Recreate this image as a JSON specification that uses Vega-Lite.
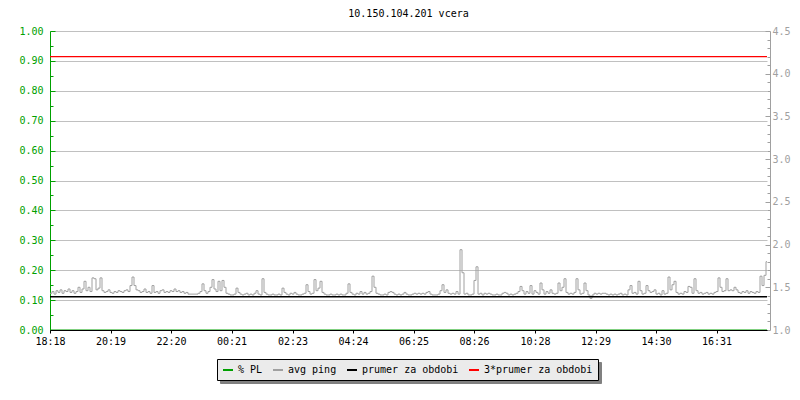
{
  "$schema": "https://vega.github.io/schema/vega-lite/v6.json",
  "width": 717,
  "height": 299,
  "autosize": {"type": "none"},
  "padding": {"left": 50, "top": 31, "right": 33, "bottom": 70},
  "background": "white",
  "config": {"view": {"stroke": null}},
  "title": {"text": "10.150.104.201 vcera", "font": "DejaVu Sans Mono", "fontSize": 10, "fontWeight": "normal", "color": "black", "anchor": "middle", "offset": 7},
  "datasets": {
    "pl": [{"m": 0, "pl": 0}, {"m": 1434, "pl": 0}],
    "ping": [
{"m":0,"p":1.43},{"m":4,"p":1.45},{"m":8,"p":1.42},{"m":12,"p":1.46},{"m":16,"p":1.44},{"m":20,"p":1.47},{"m":24,"p":1.43},{"m":28,"p":1.46},{"m":32,"p":1.45},{"m":36,"p":1.48},
{"m":40,"p":1.44},{"m":44,"p":1.46},{"m":48,"p":1.43},{"m":52,"p":1.45},{"m":56,"p":1.50},{"m":60,"p":1.44},{"m":64,"p":1.48},{"m":68,"p":1.57},{"m":72,"p":1.46},{"m":76,"p":1.50},
{"m":80,"p":1.45},{"m":84,"p":1.61},{"m":88,"p":1.60},{"m":92,"p":1.47},{"m":96,"p":1.49},{"m":100,"p":1.61},{"m":104,"p":1.46},{"m":108,"p":1.44},{"m":112,"p":1.45},{"m":116,"p":1.47},
{"m":120,"p":1.44},{"m":124,"p":1.43},{"m":128,"p":1.45},{"m":132,"p":1.44},{"m":136,"p":1.46},{"m":140,"p":1.45},{"m":144,"p":1.44},{"m":148,"p":1.46},{"m":152,"p":1.47},{"m":156,"p":1.45},
{"m":160,"p":1.52},{"m":164,"p":1.62},{"m":168,"p":1.52},{"m":172,"p":1.47},{"m":176,"p":1.46},{"m":180,"p":1.44},{"m":184,"p":1.45},{"m":188,"p":1.48},{"m":192,"p":1.44},{"m":196,"p":1.45},
{"m":200,"p":1.43},{"m":204,"p":1.52},{"m":208,"p":1.44},{"m":212,"p":1.45},{"m":216,"p":1.43},{"m":220,"p":1.46},{"m":224,"p":1.47},{"m":228,"p":1.44},{"m":232,"p":1.45},{"m":236,"p":1.44},
{"m":240,"p":1.46},{"m":244,"p":1.45},{"m":248,"p":1.48},{"m":252,"p":1.45},{"m":256,"p":1.46},{"m":260,"p":1.44},{"m":264,"p":1.45},{"m":268,"p":1.43},{"m":272,"p":1.44},{"m":276,"p":1.42},
{"m":280,"p":1.42},{"m":284,"p":1.42},{"m":288,"p":1.42},{"m":292,"p":1.42},{"m":296,"p":1.43},{"m":300,"p":1.45},{"m":304,"p":1.54},{"m":308,"p":1.46},{"m":312,"p":1.43},{"m":316,"p":1.45},
{"m":320,"p":1.50},{"m":324,"p":1.59},{"m":328,"p":1.48},{"m":332,"p":1.45},{"m":336,"p":1.57},{"m":340,"p":1.46},{"m":344,"p":1.58},{"m":348,"p":1.50},{"m":352,"p":1.43},{"m":356,"p":1.42},
{"m":360,"p":1.41},{"m":364,"p":1.41},{"m":368,"p":1.42},{"m":372,"p":1.49},{"m":376,"p":1.44},{"m":380,"p":1.42},{"m":384,"p":1.41},{"m":388,"p":1.42},{"m":392,"p":1.43},{"m":396,"p":1.41},
{"m":400,"p":1.42},{"m":404,"p":1.41},{"m":408,"p":1.43},{"m":412,"p":1.46},{"m":416,"p":1.42},{"m":420,"p":1.41},{"m":424,"p":1.60},{"m":428,"p":1.44},{"m":432,"p":1.42},{"m":436,"p":1.41},
{"m":440,"p":1.41},{"m":444,"p":1.42},{"m":448,"p":1.41},{"m":452,"p":1.41},{"m":456,"p":1.42},{"m":460,"p":1.41},{"m":464,"p":1.49},{"m":468,"p":1.44},{"m":472,"p":1.42},{"m":476,"p":1.41},
{"m":480,"p":1.43},{"m":484,"p":1.42},{"m":488,"p":1.44},{"m":492,"p":1.42},{"m":496,"p":1.41},{"m":500,"p":1.41},{"m":504,"p":1.42},{"m":508,"p":1.43},{"m":512,"p":1.53},{"m":516,"p":1.45},
{"m":520,"p":1.42},{"m":524,"p":1.43},{"m":528,"p":1.59},{"m":532,"p":1.46},{"m":536,"p":1.49},{"m":540,"p":1.57},{"m":544,"p":1.44},{"m":548,"p":1.42},{"m":552,"p":1.41},{"m":556,"p":1.41},
{"m":560,"p":1.42},{"m":564,"p":1.41},{"m":568,"p":1.41},{"m":572,"p":1.42},{"m":576,"p":1.41},{"m":580,"p":1.42},{"m":584,"p":1.41},{"m":588,"p":1.41},{"m":592,"p":1.43},{"m":596,"p":1.54},
{"m":600,"p":1.44},{"m":604,"p":1.42},{"m":608,"p":1.41},{"m":612,"p":1.43},{"m":616,"p":1.42},{"m":620,"p":1.45},{"m":624,"p":1.42},{"m":628,"p":1.44},{"m":632,"p":1.42},{"m":636,"p":1.43},
{"m":640,"p":1.45},{"m":644,"p":1.63},{"m":648,"p":1.50},{"m":652,"p":1.43},{"m":656,"p":1.42},{"m":660,"p":1.41},{"m":664,"p":1.41},{"m":668,"p":1.42},{"m":672,"p":1.41},{"m":676,"p":1.44},
{"m":680,"p":1.45},{"m":684,"p":1.44},{"m":688,"p":1.42},{"m":692,"p":1.41},{"m":696,"p":1.42},{"m":700,"p":1.41},{"m":704,"p":1.42},{"m":708,"p":1.44},{"m":712,"p":1.42},{"m":716,"p":1.41},
{"m":720,"p":1.41},{"m":724,"p":1.42},{"m":728,"p":1.43},{"m":732,"p":1.42},{"m":736,"p":1.43},{"m":740,"p":1.42},{"m":744,"p":1.43},{"m":748,"p":1.42},{"m":752,"p":1.44},{"m":756,"p":1.45},
{"m":760,"p":1.42},{"m":764,"p":1.41},{"m":768,"p":1.41},{"m":772,"p":1.41},{"m":776,"p":1.42},{"m":780,"p":1.46},{"m":784,"p":1.53},{"m":788,"p":1.44},{"m":792,"p":1.47},{"m":796,"p":1.43},
{"m":800,"p":1.42},{"m":804,"p":1.43},{"m":808,"p":1.42},{"m":812,"p":1.45},{"m":816,"p":1.42},{"m":820,"p":1.94},{"m":824,"p":1.67},{"m":828,"p":1.42},{"m":832,"p":1.43},{"m":836,"p":1.41},
{"m":840,"p":1.41},{"m":844,"p":1.42},{"m":848,"p":1.58},{"m":852,"p":1.74},{"m":856,"p":1.42},{"m":860,"p":1.43},{"m":864,"p":1.41},{"m":868,"p":1.43},{"m":872,"p":1.42},{"m":876,"p":1.43},
{"m":880,"p":1.42},{"m":884,"p":1.41},{"m":888,"p":1.41},{"m":892,"p":1.42},{"m":896,"p":1.41},{"m":900,"p":1.41},{"m":904,"p":1.43},{"m":908,"p":1.44},{"m":912,"p":1.43},{"m":916,"p":1.41},
{"m":920,"p":1.42},{"m":924,"p":1.41},{"m":928,"p":1.42},{"m":932,"p":1.43},{"m":936,"p":1.45},{"m":940,"p":1.51},{"m":944,"p":1.46},{"m":948,"p":1.42},{"m":952,"p":1.45},{"m":956,"p":1.43},
{"m":960,"p":1.52},{"m":964,"p":1.42},{"m":968,"p":1.46},{"m":972,"p":1.44},{"m":976,"p":1.42},{"m":980,"p":1.55},{"m":984,"p":1.47},{"m":988,"p":1.42},{"m":992,"p":1.45},{"m":996,"p":1.43},
{"m":1000,"p":1.47},{"m":1004,"p":1.43},{"m":1008,"p":1.42},{"m":1012,"p":1.43},{"m":1016,"p":1.55},{"m":1020,"p":1.46},{"m":1024,"p":1.50},{"m":1028,"p":1.60},{"m":1032,"p":1.44},{"m":1036,"p":1.42},
{"m":1040,"p":1.43},{"m":1044,"p":1.42},{"m":1048,"p":1.44},{"m":1052,"p":1.60},{"m":1056,"p":1.47},{"m":1060,"p":1.42},{"m":1064,"p":1.43},{"m":1068,"p":1.55},{"m":1072,"p":1.46},{"m":1076,"p":1.41},
{"m":1080,"p":1.37},{"m":1084,"p":1.41},{"m":1088,"p":1.43},{"m":1092,"p":1.42},{"m":1096,"p":1.43},{"m":1100,"p":1.42},{"m":1104,"p":1.43},{"m":1108,"p":1.43},{"m":1112,"p":1.42},{"m":1116,"p":1.41},
{"m":1120,"p":1.42},{"m":1124,"p":1.41},{"m":1128,"p":1.42},{"m":1132,"p":1.41},{"m":1136,"p":1.42},{"m":1140,"p":1.43},{"m":1144,"p":1.41},{"m":1148,"p":1.42},{"m":1152,"p":1.41},{"m":1156,"p":1.47},
{"m":1160,"p":1.52},{"m":1164,"p":1.43},{"m":1168,"p":1.44},{"m":1172,"p":1.42},{"m":1176,"p":1.57},{"m":1180,"p":1.46},{"m":1184,"p":1.42},{"m":1188,"p":1.43},{"m":1192,"p":1.52},{"m":1196,"p":1.46},
{"m":1200,"p":1.44},{"m":1204,"p":1.45},{"m":1208,"p":1.47},{"m":1212,"p":1.42},{"m":1216,"p":1.43},{"m":1220,"p":1.41},{"m":1224,"p":1.46},{"m":1228,"p":1.42},{"m":1232,"p":1.43},{"m":1236,"p":1.62},
{"m":1240,"p":1.47},{"m":1244,"p":1.53},{"m":1248,"p":1.57},{"m":1252,"p":1.44},{"m":1256,"p":1.42},{"m":1260,"p":1.43},{"m":1264,"p":1.42},{"m":1268,"p":1.45},{"m":1272,"p":1.44},{"m":1276,"p":1.51},
{"m":1280,"p":1.50},{"m":1284,"p":1.43},{"m":1288,"p":1.60},{"m":1292,"p":1.46},{"m":1296,"p":1.43},{"m":1300,"p":1.44},{"m":1304,"p":1.42},{"m":1308,"p":1.43},{"m":1312,"p":1.44},{"m":1316,"p":1.42},
{"m":1320,"p":1.43},{"m":1324,"p":1.42},{"m":1328,"p":1.44},{"m":1332,"p":1.45},{"m":1336,"p":1.61},{"m":1340,"p":1.50},{"m":1344,"p":1.45},{"m":1348,"p":1.46},{"m":1352,"p":1.60},{"m":1356,"p":1.46},
{"m":1360,"p":1.47},{"m":1364,"p":1.46},{"m":1368,"p":1.50},{"m":1372,"p":1.47},{"m":1376,"p":1.44},{"m":1380,"p":1.43},{"m":1384,"p":1.45},{"m":1388,"p":1.44},{"m":1392,"p":1.46},{"m":1396,"p":1.43},
{"m":1400,"p":1.45},{"m":1404,"p":1.44},{"m":1408,"p":1.43},{"m":1412,"p":1.45},{"m":1416,"p":1.44},{"m":1420,"p":1.63},{"m":1424,"p":1.52},{"m":1428,"p":1.64},{"m":1432,"p":1.80},{"m":1434,"p":1.80},
{"m":0,"a":1.39,"b":4.2},{"m":1434,"a":1.39,"b":4.2}
    ]
  },
  "layer": [
    {
      "data": {"name": "pl"},
      "mark": {"type": "line", "strokeWidth": 1},
      "encoding": {
        "x": {
          "field": "m", "type": "quantitative",
          "scale": {"domain": [0, 1434], "nice": false, "zero": false},
          "axis": {
            "title": null, "grid": false, "zindex": 1,
            "values": [0, 121, 242, 363, 485, 606, 727, 848, 970, 1091, 1212, 1333],
            "labelExpr": "timeFormat(datetime(2020, 0, 1, 18, 18 + datum.value), '%H:%M')",
            "labelFlush": false, "labelOverlap": false,
            "domainColor": "black", "tickColor": "black", "tickSize": 3,
            "labelColor": "black", "labelFont": "DejaVu Sans Mono", "labelFontSize": 10, "labelPadding": 3
          }
        },
        "y": {
          "field": "pl", "type": "quantitative",
          "scale": {"domain": [0, 1], "nice": false, "zero": false},
          "axis": {
            "orient": "left", "title": null, "labelOverlap": false,
            "values": [0, 0.05, 0.1, 0.15, 0.2, 0.25, 0.3, 0.35, 0.4, 0.45, 0.5, 0.55, 0.6, 0.65, 0.7, 0.75, 0.8, 0.85, 0.9, 0.95, 1],
            "labelExpr": "round(datum.value*100) % 10 == 0 ? format(datum.value, '.2f') : ''",
            "domainColor": "#00a000", "tickColor": "#00a000", "labelColor": "#00a000",
            "labelFont": "DejaVu Sans Mono", "labelFontSize": 10,
            "tickSize": {"condition": {"test": "round(datum.value*100) % 10 == 0", "value": -5}, "value": -3},
            "labelPadding": 12,
            "grid": true, "gridColor": "#c0c0c0",
            "gridOpacity": {"condition": {"test": "round(datum.value*100) % 10 == 0", "value": 1}, "value": 0}
          }
        },
        "color": {
          "datum": "pl",
          "title": null,
          "scale": {"domain": ["pl", "p", "a", "b"], "range": ["#00a000", "#a0a0a0", "#000000", "#ff0000"]},
          "legend": {
            "orient": "none", "legendX": 167, "legendY": 328, "direction": "horizontal", "title": null,
            "symbolType": "stroke", "symbolSize": 100, "symbolStrokeWidth": 2,
            "labelExpr": "datum.value == 'pl' ? '% PL' : datum.value == 'p' ? 'avg ping' : datum.value == 'a' ? 'prumer za obdobi' : '3*prumer za obdobi'",
            "labelFont": "DejaVu Sans Mono", "labelFontSize": 10, "labelColor": "black",
            "labelOffset": 4, "columnPadding": 6, "padding": 5,
            "fillColor": "#ebebeb", "strokeColor": "black", "zindex": 2
          }
        },
        "strokeDash": {
          "datum": "w",
          "title": null,
          "scale": {"domain": ["w", "x", "y", "z"], "range": [[1, 0], [1, 0], [1, 0], [1, 0]]},
          "legend": {
            "orient": "none", "legendX": 170, "legendY": 331, "direction": "horizontal", "title": null,
            "symbolType": "stroke", "symbolSize": 100, "symbolStrokeWidth": 2, "symbolStrokeColor": "#808080",
            "labelExpr": "datum.value == 'w' ? '% PL' : datum.value == 'x' ? 'avg ping' : datum.value == 'y' ? 'prumer za obdobi' : '3*prumer za obdobi'",
            "labelFont": "DejaVu Sans Mono", "labelFontSize": 10, "labelColor": "#808080",
            "labelOffset": 4, "columnPadding": 6, "padding": 5,
            "fillColor": "#808080", "strokeColor": "#808080", "zindex": 1
          }
        }
      }
    },
    {
      "data": {"name": "ping"},
      "transform": [
        {"fold": ["p", "a", "b"], "as": ["k", "v"]},
        {"filter": "isValid(datum.v)"}
      ],
      "mark": {"type": "line", "interpolate": "step-after"},
      "encoding": {
        "x": {"field": "m", "type": "quantitative"},
        "y": {
          "field": "v", "type": "quantitative",
          "scale": {"domain": [1, 4.5], "nice": false, "zero": false},
          "axis": {
            "orient": "right", "title": null, "grid": false, "offset": 3, "labelOverlap": false,
            "values": [1, 1.1, 1.2, 1.3, 1.4, 1.5, 1.6, 1.7, 1.8, 1.9, 2, 2.1, 2.2, 2.3, 2.4, 2.5, 2.6, 2.7, 2.8, 2.9, 3, 3.1, 3.2, 3.3, 3.4, 3.5, 3.6, 3.7, 3.8, 3.9, 4, 4.1, 4.2, 4.3, 4.4, 4.5],
            "labelExpr": "round(datum.value*10) % 5 == 0 ? format(datum.value, '.1f') : ''",
            "domainColor": "#a0a0a0", "tickColor": "#a0a0a0", "labelColor": "#a0a0a0",
            "labelFont": "DejaVu Sans Mono", "labelFontSize": 10,
            "tickSize": {"condition": {"test": "round(datum.value*10) % 5 == 0", "value": -5}, "value": -3},
            "labelPadding": 7
          }
        },
        "color": {"field": "k", "type": "nominal", "title": null},
        "strokeWidth": {"field": "k", "type": "nominal", "title": null, "scale": {"domain": ["p", "b", "a"], "range": [1, 1.5, 2.5]}, "legend": null}
      }
    }
  ],
  "resolve": {"scale": {"y": "independent"}}
}
